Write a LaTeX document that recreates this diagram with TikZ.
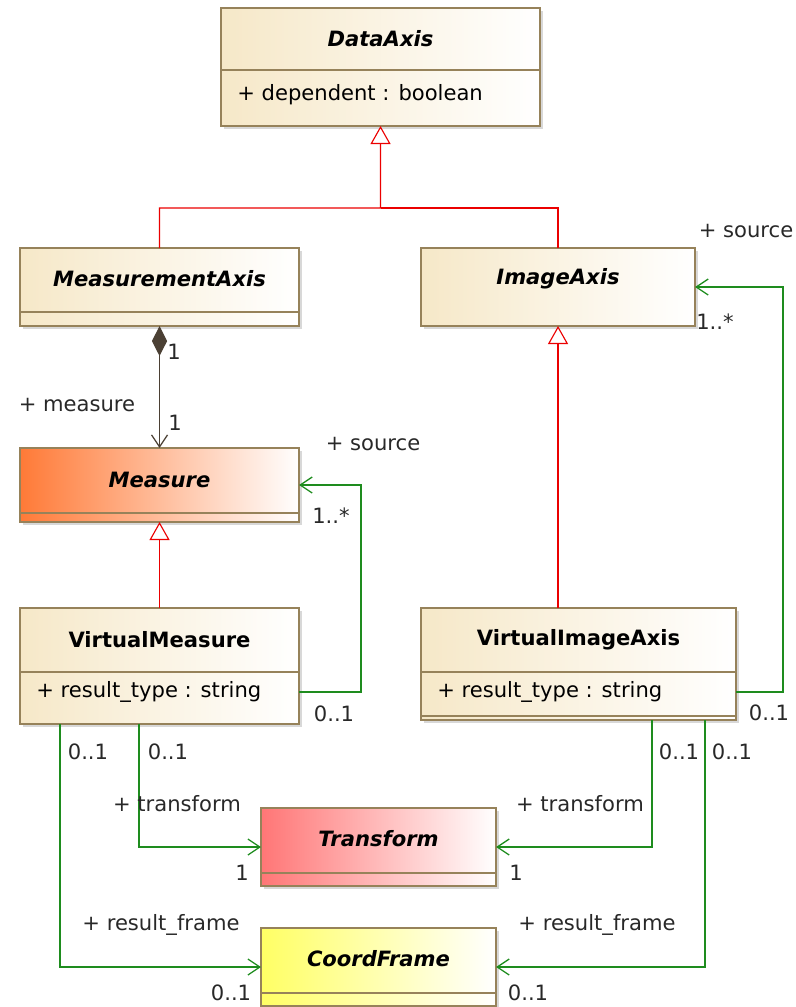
\documentclass[tikz,border=0pt]{standalone}
\usepackage{fontspec}
\setmainfont{DejaVu Sans}[ItalicFont={DejaVu Sans Oblique},BoldFont={DejaVu Sans Bold},BoldItalicFont={DejaVu Sans Bold Oblique}]
\usepackage{tikz}
\usetikzlibrary{arrows.meta,shadows}
\definecolor{classfill}{RGB}{246,232,200}
\definecolor{classedge}{RGB}{150,130,90}
\definecolor{measurefill}{RGB}{255,122,55}
\definecolor{transformfill}{RGB}{255,118,118}
\definecolor{framefill}{RGB}{255,255,100}
\definecolor{assocgreen}{RGB}{30,140,30}
\definecolor{inheritred}{RGB}{235,0,0}
\definecolor{composebrown}{RGB}{75,64,52}
\definecolor{labeltext}{RGB}{40,40,40}
\tikzset{class style/.style={
		draw=classedge,
		line width=1pt,
		left color=#1,
		right color=white,
		rectangle,
		anchor=north west,
		inner sep=0pt,
		outer sep=0pt,
		drop shadow={shadow xshift=2pt,shadow yshift=-2pt,fill=black!30},
	},
	class style/.default=classfill,
	line style/.style={
		draw=classedge,
		line width=1pt,
	},
	title style/.style={
		text=black,
		font=\fontsize{15}{18}\selectfont\bfseries\itshape,
		inner sep=0pt,
	},
	concrete style/.style={
		text=black,
		font=\fontsize{15}{18}\selectfont\bfseries,
		inner sep=0pt,
	},
	attr style/.style={
		text=black,
		font=\fontsize{15}{18}\selectfont,
		anchor=west,
		inner sep=0pt,
	},
	label style/.style={
		text=labeltext,
		font=\fontsize{15}{18}\selectfont,
		inner sep=0pt,
	},
	inherit style/.style={
		draw=inheritred,
		line width=0.8pt,
		-{Triangle[open,length=0.45cm,width=0.5cm]},
	},
	assoc style/.style={
		draw=assocgreen,
		line width=0.9pt,
		-{Straight Barb[length=0.3cm,width=0.4cm]},
	},
	compose style/.style={
		draw=composebrown,
		line width=0.9pt,
		{Diamond[length=0.75cm,width=0.38cm]}-{Straight Barb[length=0.3cm,width=0.4cm]},
	}
}
\begin{document}
\begin{tikzpicture}[x=0.025cm,y=-0.025cm]
	\useasboundingbox (0,0) rectangle (796,1007);
	
	% classes
	\node[class style, minimum width=7.975cm, minimum height=2.95cm] (DataAxis) at (221,8) {};
	\draw[line style] (221,70) -- (540,70);
	\node[title style] (DataAxisName) at (380.5,39) {DataAxis};
	\node[attr style] (DataAxisAttr) at (237,95) {+ dependent : boolean};
	
	\node[class style, minimum width=6.975cm, minimum height=1.95cm] (MeasAxis) at (20,248) {};
	\draw[line style] (20,312) -- (299,312);
	\node[title style] (MeasAxisName) at (159.5,279) {MeasurementAxis};
	
	\node[class style, minimum width=6.85cm, minimum height=1.95cm] (ImgAxis) at (421,248) {};
	\node[title style] (ImgAxisName) at (558,279) {ImageAxis};
	
	\node[class style=measurefill, minimum width=6.975cm, minimum height=1.85cm] (Measure) at (20,448) {};
	\draw[line style] (20,513) -- (299,513);
	\node[title style] (MeasureName) at (159.5,480) {Measure};
	
	\node[class style, minimum width=6.975cm, minimum height=2.9cm] (VMeasure) at (20,608) {};
	\draw[line style] (20,672) -- (299,672);
	\node[concrete style] (VMeasureName) at (159.5,640) {VirtualMeasure};
	\node[attr style] (VMeasureAttr) at (36,692) {+ result\_type : string};
	
	\node[class style, minimum width=7.875cm, minimum height=2.8cm] (VImgAxis) at (421,608) {};
	\draw[line style] (421,672) -- (736,672);
	\draw[line style] (421,716) -- (736,716);
	\node[concrete style] (VImgAxisName) at (578.5,640) {VirtualImageAxis};
	\node[attr style] (VImgAxisAttr) at (437,692) {+ result\_type : string};
	
	\node[class style=transformfill, minimum width=5.875cm, minimum height=1.95cm] (Transform) at (261,808) {};
	\draw[line style] (261,873) -- (496,873);
	\node[title style] (TransformName) at (378.5,839) {Transform};
	
	\node[class style=framefill, minimum width=5.875cm, minimum height=1.95cm] (CoordFrame) at (261,928) {};
	\draw[line style] (261,993) -- (496,993);
	\node[title style] (CoordFrameName) at (378.5,959) {CoordFrame};
	
	% generalizations
	\coordinate (genJoin) at (380.5,208);
	\draw[inherit style] (MeasAxis.north) |- (genJoin) -- (DataAxis.south);
	\draw[inherit style, -] (ImgAxis.north) |- (genJoin);
	\draw[inherit style] (VMeasure.north) -- (Measure.south);
	\draw[inherit style] (VImgAxis.north -| ImgAxis.south) -- (ImgAxis.south);
	
	% composition
	\draw[compose style] (MeasAxis.south) -- (Measure.north);
	\node[label style] (measTopMult) at (174,352) {1};
	\node[label style] (measRole) at (77,405) {+ measure};
	\node[label style] (measBotMult) at (175,423) {1};
	
	% associations
	\coordinate (srcTurnM) at (361,0);
	\draw[assoc style] (VMeasure.east |- VMeasureAttr) -| (srcTurnM |- Measure.east) -- (Measure.east);
	\node[label style] (srcRoleM) at (373,444) {+ source};
	\node[label style] (srcMultM) at (331,516) {1..*};
	\node[label style] (srcOwnM) at (334,714) {0..1};
	
	\coordinate (srcTurnI) at (783,0);
	\draw[assoc style] (VImgAxis.east |- VImgAxisAttr) -| (srcTurnI |- ImgAxis.east) -- (ImgAxis.east);
	\node[label style] (srcRoleI) at (746,231) {+ source};
	\node[label style] (srcMultI) at (715,322) {1..*};
	\node[label style] (srcOwnI) at (769,713) {0..1};
	
	\draw[assoc style] ([xshift=1cm]VMeasure.south west) |- (CoordFrame.west);
	\draw[assoc style] ([xshift=2.975cm]VMeasure.south west) |- (Transform.west);
	\node[label style] (frameOwnM) at (88,752) {0..1};
	\node[label style] (transOwnM) at (168,752) {0..1};
	\node[label style] (transRoleM) at (177,804) {+ transform};
	\node[label style] (transMultM) at (242,873) {1};
	\node[label style] (frameRoleM) at (161,925) {+ result\_frame};
	\node[label style] (frameMultM) at (231,993) {0..1};
	
	\draw[assoc style] ([xshift=-2.1cm]VImgAxis.south east) |- (Transform.east);
	\draw[assoc style] ([xshift=-0.775cm]VImgAxis.south east) |- (CoordFrame.east);
	\node[label style] (transOwnI) at (679,752) {0..1};
	\node[label style] (frameOwnI) at (732,752) {0..1};
	\node[label style] (transRoleI) at (580,804) {+ transform};
	\node[label style] (transMultI) at (516,873) {1};
	\node[label style] (frameRoleI) at (597,925) {+ result\_frame};
	\node[label style] (frameMultI) at (528,993) {0..1};
\end{tikzpicture}
\end{document}
